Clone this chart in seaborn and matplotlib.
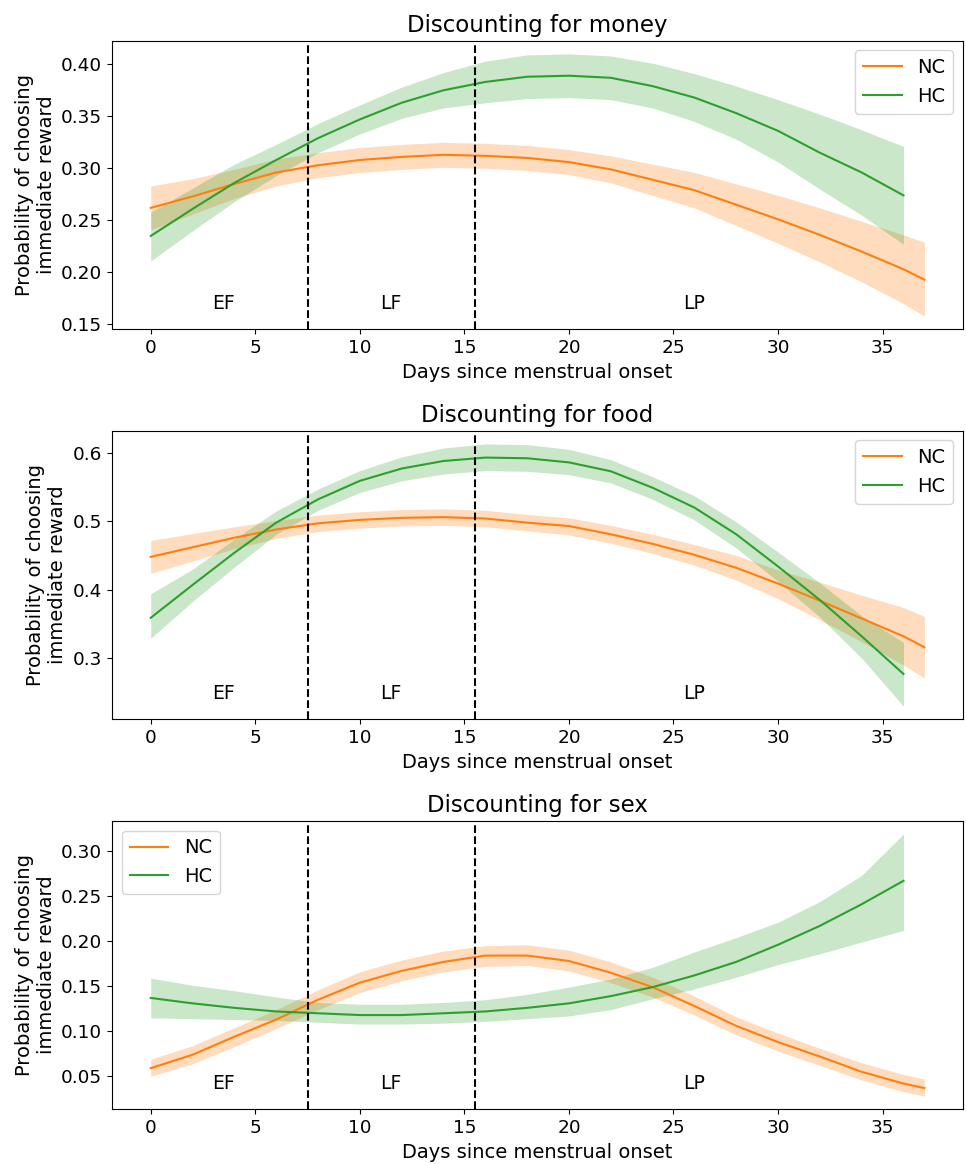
import numpy as np
import pandas as pd
import matplotlib
matplotlib.use('Agg')
import matplotlib.pyplot as plt
import seaborn as sns

days_nc = [0, 2, 4, 6, 8, 10, 12, 14, 16, 18, 20, 22, 24, 26, 28, 30, 32, 34, 36, 37]
days_hc = [0, 2, 4, 6, 8, 10, 12, 14, 16, 18, 20, 22, 24, 26, 28, 30, 32, 34, 36]

# money
money_nc = [0.262, 0.273, 0.285, 0.296, 0.303, 0.308, 0.311, 0.313, 0.312, 0.310,
            0.306, 0.299, 0.289, 0.279, 0.265, 0.251, 0.236, 0.220, 0.203, 0.193]
money_nc_hi = [0.283, 0.290, 0.299, 0.309, 0.315, 0.320, 0.323, 0.325, 0.324, 0.322,
               0.318, 0.312, 0.304, 0.296, 0.285, 0.274, 0.262, 0.249, 0.236, 0.229]
money_nc_lo = [0.241, 0.256, 0.271, 0.283, 0.291, 0.296, 0.299, 0.301, 0.300, 0.298,
               0.294, 0.286, 0.274, 0.262, 0.245, 0.228, 0.210, 0.191, 0.170, 0.158]
money_hc = [0.235, 0.261, 0.286, 0.308, 0.329, 0.347, 0.363, 0.375, 0.383, 0.388,
            0.389, 0.387, 0.379, 0.368, 0.353, 0.336, 0.315, 0.296, 0.274]
money_hc_hi = [0.258, 0.281, 0.304, 0.323, 0.343, 0.361, 0.378, 0.392, 0.403, 0.409,
               0.410, 0.408, 0.401, 0.391, 0.379, 0.366, 0.352, 0.337, 0.321]
money_hc_lo = [0.211, 0.240, 0.268, 0.293, 0.315, 0.333, 0.348, 0.358, 0.363, 0.367,
               0.368, 0.366, 0.358, 0.345, 0.328, 0.306, 0.280, 0.255, 0.227]

# food
food_nc = [0.448, 0.462, 0.476, 0.488, 0.497, 0.502, 0.505, 0.506, 0.504, 0.498,
           0.493, 0.481, 0.467, 0.451, 0.432, 0.409, 0.384, 0.358, 0.332, 0.316]
food_nc_hi = [0.472, 0.482, 0.492, 0.501, 0.509, 0.514, 0.517, 0.518, 0.516, 0.510,
              0.505, 0.494, 0.481, 0.466, 0.450, 0.429, 0.411, 0.392, 0.374, 0.361]
food_nc_lo = [0.424, 0.442, 0.460, 0.475, 0.485, 0.490, 0.493, 0.494, 0.492, 0.486,
              0.480, 0.468, 0.453, 0.436, 0.414, 0.387, 0.356, 0.324, 0.290, 0.271]
food_hc = [0.359, 0.407, 0.454, 0.498, 0.532, 0.559, 0.577, 0.588, 0.593, 0.592,
           0.586, 0.573, 0.549, 0.520, 0.481, 0.434, 0.385, 0.332, 0.277]
food_hc_hi = [0.394, 0.430, 0.474, 0.515, 0.547, 0.574, 0.594, 0.607, 0.613, 0.612,
              0.605, 0.590, 0.565, 0.537, 0.499, 0.455, 0.410, 0.362, 0.323]
food_hc_lo = [0.329, 0.383, 0.433, 0.481, 0.516, 0.542, 0.559, 0.569, 0.574, 0.573,
              0.568, 0.556, 0.532, 0.502, 0.461, 0.412, 0.360, 0.300, 0.230]

# sex
sex_nc = [0.059, 0.074, 0.094, 0.113, 0.135, 0.154, 0.167, 0.177, 0.184, 0.184,
          0.178, 0.165, 0.149, 0.128, 0.106, 0.088, 0.072, 0.055, 0.042, 0.037]
sex_nc_hi = [0.069, 0.084, 0.104, 0.124, 0.146, 0.166, 0.179, 0.189, 0.195, 0.196,
             0.190, 0.177, 0.160, 0.139, 0.116, 0.098, 0.081, 0.065, 0.052, 0.047]
sex_nc_lo = [0.050, 0.064, 0.083, 0.103, 0.124, 0.143, 0.156, 0.166, 0.172, 0.173,
             0.167, 0.154, 0.138, 0.118, 0.096, 0.078, 0.062, 0.046, 0.033, 0.028]
sex_hc = [0.137, 0.131, 0.126, 0.122, 0.120, 0.118, 0.118, 0.120, 0.122, 0.126,
          0.131, 0.139, 0.149, 0.162, 0.177, 0.196, 0.217, 0.241, 0.267]
sex_hc_hi = [0.159, 0.151, 0.145, 0.138, 0.132, 0.130, 0.130, 0.132, 0.135, 0.141,
             0.149, 0.158, 0.171, 0.188, 0.204, 0.221, 0.244, 0.273, 0.319]
sex_hc_lo = [0.115, 0.114, 0.113, 0.112, 0.110, 0.108, 0.108, 0.109, 0.111, 0.114,
             0.117, 0.124, 0.136, 0.147, 0.160, 0.174, 0.186, 0.199, 0.212]

titles = ['Discounting for money', 'Discounting for food', 'Discounting for sex']
phase_bounds = [7.5, 15.5]
phase_labels = ['EF', 'LF', 'LP']
phase_x = [3.5, 11.5, 26]

panels = [
    (money_nc, money_nc_lo, money_nc_hi, money_hc, money_hc_lo, money_hc_hi),
    (food_nc, food_nc_lo, food_nc_hi, food_hc, food_hc_lo, food_hc_hi),
    (sex_nc, sex_nc_lo, sex_nc_hi, sex_hc, sex_hc_lo, sex_hc_hi),
]
legend_loc = ['upper right', 'upper right', 'upper left']

fig, axes = plt.subplots(3, 1, figsize=(9.66, 11.64), dpi=100)
fig.subplots_adjust(left=0.116, right=0.997, bottom=0.047, top=0.965, hspace=0.352)

for i, ax in enumerate(axes):
    nc, nc_lo, nc_hi, hc, hc_lo, hc_hi = panels[i]
    sns.lineplot(x=days_nc, y=nc, color='tab:orange', label='NC', ax=ax)
    ax.fill_between(days_nc, nc_lo, nc_hi, color='tab:orange', alpha=0.27, linewidth=0)
    sns.lineplot(x=days_hc, y=hc, color='tab:green', label='HC', ax=ax)
    ax.fill_between(days_hc, hc_lo, hc_hi, color='tab:green', alpha=0.25, linewidth=0)
    for b in phase_bounds:
        ax.axvline(b, color='black', linestyle='--', linewidth=1.5)
    for lab, px in zip(phase_labels, phase_x):
        ax.text(px, 0.055, lab, transform=ax.get_xaxis_transform(), ha='center', va='bottom', fontsize=13.5)
    ax.set_title(titles[i], fontsize=16.5)
    ax.set_xlabel('Days since menstrual onset', fontsize=14)
    ax.set_ylabel('Probability of choosing\nimmediate reward', fontsize=14)
    ax.set_xticks([0, 5, 10, 15, 20, 25, 30, 35])
    ax.tick_params(labelsize=13.3)
    ax.legend(loc=legend_loc[i], fontsize=14)

axes[0].set_yticks([0.15, 0.20, 0.25, 0.30, 0.35, 0.40])
axes[0].yaxis.set_major_formatter(matplotlib.ticker.FormatStrFormatter('%.2f'))
axes[1].set_yticks([0.3, 0.4, 0.5, 0.6])
axes[2].set_yticks([0.05, 0.10, 0.15, 0.20, 0.25, 0.30])
axes[2].yaxis.set_major_formatter(matplotlib.ticker.FormatStrFormatter('%.2f'))

fig.savefig('out.png', dpi=100)
